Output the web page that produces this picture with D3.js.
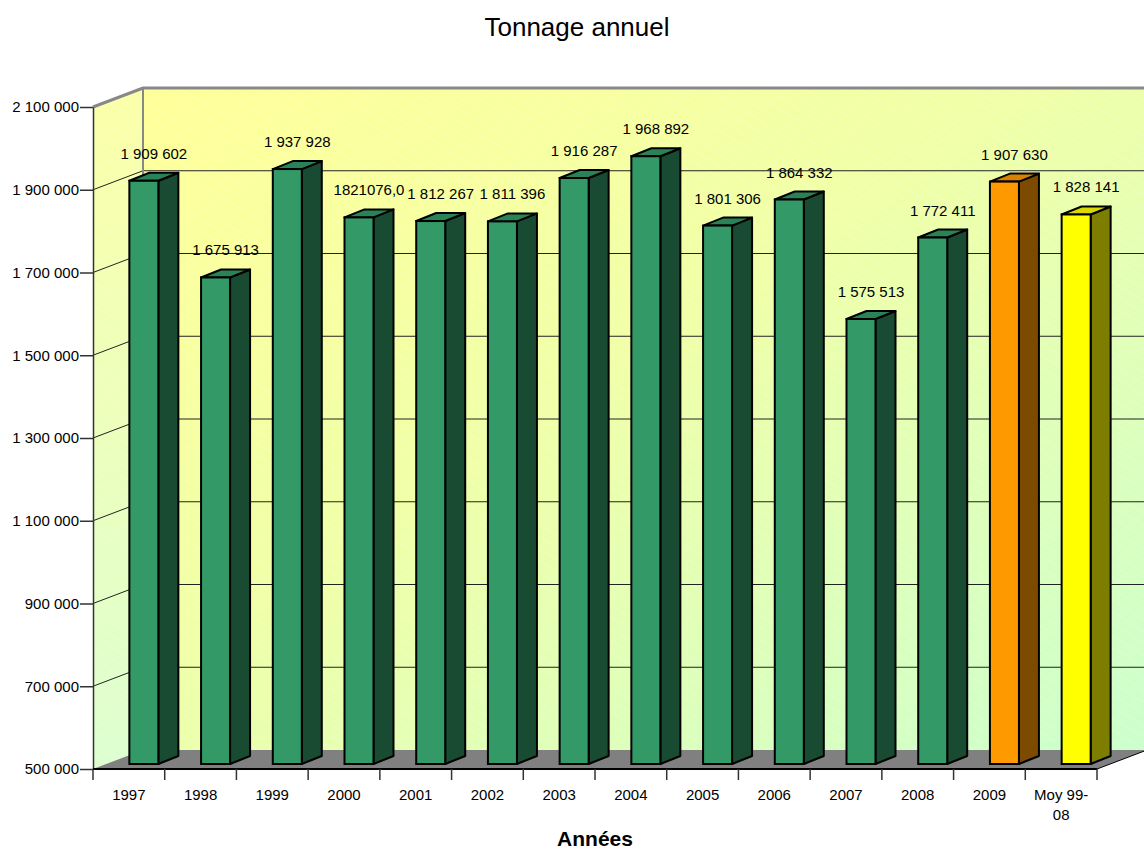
<!DOCTYPE html>
<html>
<head>
<meta charset="utf-8">
<script src="https://cdn.jsdelivr.net/npm/d3@7"></script>
<style>
  body { margin: 0; background: #fff; }
  text { font-family: "Liberation Sans", Arial, sans-serif; fill: #000; }
</style>
</head>
<body>
<div id="chart"></div>
<script>
// data
const categories = ["1997", "1998", "1999", "2000", "2001", "2002", "2003", "2004", "2005", "2006", "2007", "2008", "2009", "Moy 99-08"];
const values = [1909602, 1675913, 1937928, 1821076, 1812267, 1811396, 1916287, 1968892, 1801306, 1864332, 1575513, 1772411, 1907630, 1828141];
const valueLabels = ["1 909 602", "1 675 913", "1 937 928", "1821076,0", "1 812 267", "1 811 396", "1 916 287", "1 968 892", "1 801 306", "1 864 332", "1 575 513", "1 772 411", "1 907 630", "1 828 141"];
const yTicks = [500000, 700000, 900000, 1100000, 1300000, 1500000, 1700000, 1900000, 2100000];

const width = 1144, height = 852;
const margin = { left: 93, right: 47, top: 107, bottom: 83 };
const depth = { dx: 50, dy: -19 };      // wall depth
const barShift = { dx: 15, dy: -5 };    // bars sit a bit behind the front plane
const barDepth = { dx: 20, dy: -8 };
const barW = 29;

const svg = d3.select("#chart")
    .append("svg")
    .attr("width", width)
    .attr("height", height);

const x = d3.scaleBand()
    .domain(categories)
    .range([margin.left, width - margin.right])
    .padding(0);

const y = d3.scaleLinear()
    .domain([500000, 2100000])
    .range([height - margin.bottom, margin.top]);

const fmt = d3.formatLocale({ decimal: ",", thousands: " ", grouping: [3], currency: ["", ""] }).format(",d");

function barColor(c) {
    if (c === "2009") return "#ff9900";
    if (c === "Moy 99-08") return "#ffff00";
    return "#339966";
}

const defs = svg.append("defs");
const back = defs.append("linearGradient").attr("id", "backGrad")
    .attr("x1", "0%").attr("y1", "0%").attr("x2", "100%").attr("y2", "100%");
back.append("stop").attr("offset", "0%").attr("stop-color", "#ffff99");
back.append("stop").attr("offset", "45%").attr("stop-color", "#f0ffa8");
back.append("stop").attr("offset", "100%").attr("stop-color", "#ccffcc");

const side = defs.append("linearGradient").attr("id", "sideGrad")
    .attr("x1", "0%").attr("y1", "0%").attr("x2", "0%").attr("y2", "100%");
side.append("stop").attr("offset", "0%").attr("stop-color", "#fbffa8");
side.append("stop").attr("offset", "100%").attr("stop-color", "#ddffd0");

const pat = defs.append("pattern").attr("id", "stripes")
    .attr("width", 10).attr("height", 10)
    .attr("patternUnits", "userSpaceOnUse")
    .attr("patternTransform", "rotate(-58)");
pat.append("line").attr("x1", 0).attr("y1", 0).attr("x2", 0).attr("y2", 10)
    .attr("stroke", "#fff").attr("stroke-opacity", 0.35).attr("stroke-width", 1);

const x0 = margin.left, x1 = width - margin.right;
const yTop = y(2100000), yBase = y(500000);

// back wall
svg.append("rect")
    .attr("x", x0 + depth.dx).attr("y", yTop + depth.dy)
    .attr("width", width - x0 - depth.dx).attr("height", yBase - yTop)
    .attr("fill", "url(#backGrad)");
svg.append("rect")
    .attr("x", x0 + depth.dx).attr("y", yTop + depth.dy)
    .attr("width", width - x0 - depth.dx).attr("height", yBase - yTop)
    .attr("fill", "url(#stripes)");

// side wall
const sidePts = [[x0, yTop], [x0 + depth.dx, yTop + depth.dy], [x0 + depth.dx, yBase + depth.dy], [x0, yBase]];
svg.append("path").attr("d", d3.line()(sidePts) + "Z").attr("fill", "url(#sideGrad)");
svg.append("path").attr("d", d3.line()(sidePts) + "Z").attr("fill", "url(#stripes)");

// gridlines on both walls
const grid = yTicks.filter(t => t > 500000 && t < 2100000);
svg.selectAll(".gridBack")
    .data(grid)
    .join("line")
    .attr("x1", x0 + depth.dx).attr("x2", width)
    .attr("y1", d => y(d) + depth.dy).attr("y2", d => y(d) + depth.dy)
    .attr("stroke", "#222").attr("stroke-width", 1);
svg.selectAll(".gridSide")
    .data(grid)
    .join("line")
    .attr("x1", x0).attr("x2", x0 + depth.dx)
    .attr("y1", d => y(d)).attr("y2", d => y(d) + depth.dy)
    .attr("stroke", "#222").attr("stroke-width", 1);

// floor
const floorPts = [[x0, yBase], [x0 + depth.dx, yBase + depth.dy], [x1 + depth.dx, yBase + depth.dy], [x1, yBase]];
svg.append("path").attr("d", d3.line()(floorPts) + "Z").attr("fill", "#808080");
svg.append("line")
    .attr("x1", x1).attr("y1", yBase).attr("x2", x1 + depth.dx).attr("y2", yBase + depth.dy)
    .attr("stroke", "#000").attr("stroke-width", 1);

// wall borders
svg.append("path")
    .attr("d", d3.line()([[x0, yTop], [x0 + depth.dx, yTop + depth.dy], [width, yTop + depth.dy]]))
    .attr("fill", "none").attr("stroke", "#888").attr("stroke-width", 3);
svg.append("line")
    .attr("x1", x0 + depth.dx).attr("x2", x0 + depth.dx)
    .attr("y1", yTop + depth.dy).attr("y2", yBase + depth.dy)
    .attr("stroke", "#888").attr("stroke-width", 2);

// bars
const bars = svg.selectAll(".bar")
    .data(categories.map((c, i) => ({ cat: c, value: values[i], label: valueLabels[i] })))
    .join("g")
    .attr("class", "bar");

function bx(d) { return x(d.cat) + (x.bandwidth() - barW) / 2 + barShift.dx; }
function by(d) { return y(d.value) + barShift.dy; }
const bBase = yBase + barShift.dy;

bars.append("path")
    .attr("d", d => d3.line()([[bx(d) + barW, by(d)], [bx(d) + barW + barDepth.dx, by(d) + barDepth.dy],
        [bx(d) + barW + barDepth.dx, bBase + barDepth.dy], [bx(d) + barW, bBase]]) + "Z")
    .attr("fill", d => d3.color(barColor(d.cat)).darker(2))
    .attr("stroke", "#000").attr("stroke-width", 2).attr("stroke-linejoin", "round");
bars.append("path")
    .attr("d", d => d3.line()([[bx(d), by(d)], [bx(d) + barDepth.dx, by(d) + barDepth.dy],
        [bx(d) + barW + barDepth.dx, by(d) + barDepth.dy], [bx(d) + barW, by(d)]]) + "Z")
    .attr("fill", d => d3.color(barColor(d.cat)).darker(0.45))
    .attr("stroke", "#000").attr("stroke-width", 2).attr("stroke-linejoin", "round");
bars.append("rect")
    .attr("x", d => bx(d)).attr("y", d => by(d))
    .attr("width", barW).attr("height", d => bBase - by(d))
    .attr("fill", d => barColor(d.cat))
    .attr("stroke", "#000").attr("stroke-width", 2);

bars.append("text")
    .attr("x", d => bx(d) + (barW + barDepth.dx) / 2)
    .attr("y", d => by(d) - 22)
    .attr("text-anchor", "middle")
    .style("font-size", "15px")
    .text(d => d.label);

// y axis
const yAxis = svg.append("g")
    .attr("transform", `translate(${x0},0)`)
    .call(d3.axisLeft(y).tickValues(yTicks).tickFormat(fmt).tickSize(13).tickSizeOuter(0));
yAxis.select(".domain").attr("stroke", "#333").attr("stroke-width", 1.5);
yAxis.selectAll(".tick line").attr("stroke", "#333").attr("stroke-width", 1.5);
yAxis.selectAll(".tick text").attr("x", -14).style("font-size", "15px")
    .style("font-family", "'Liberation Sans', Arial, sans-serif").attr("fill", "#000");

// x axis
svg.append("line")
    .attr("x1", x0).attr("x2", x1).attr("y1", yBase).attr("y2", yBase)
    .attr("stroke", "#000").attr("stroke-width", 2);
svg.selectAll(".xtick")
    .data(categories.map(c => x(c)).concat([x1]))
    .join("line")
    .attr("x1", d => d).attr("x2", d => d)
    .attr("y1", yBase).attr("y2", yBase + 11)
    .attr("stroke", "#333").attr("stroke-width", 1.5);

svg.selectAll(".xlabel")
    .data(categories)
    .join("text")
    .attr("text-anchor", "middle")
    .style("font-size", "15px")
    .each(function (c) {
        const parts = c === "Moy 99-08" ? ["Moy 99-", "08"] : [c];
        parts.forEach((p, i) => {
            d3.select(this).append("tspan")
                .attr("x", x(c) + x.bandwidth() / 2)
                .attr("y", yBase + 31 + i * 20)
                .text(p);
        });
    });

// titles
svg.append("text")
    .attr("x", 577).attr("y", 36)
    .attr("text-anchor", "middle")
    .style("font-size", "26px")
    .text("Tonnage annuel");

svg.append("text")
    .attr("x", (x0 + x1) / 2).attr("y", 846)
    .attr("text-anchor", "middle")
    .style("font-size", "21px").style("font-weight", "bold")
    .text("Années");
</script>
</body>
</html>
